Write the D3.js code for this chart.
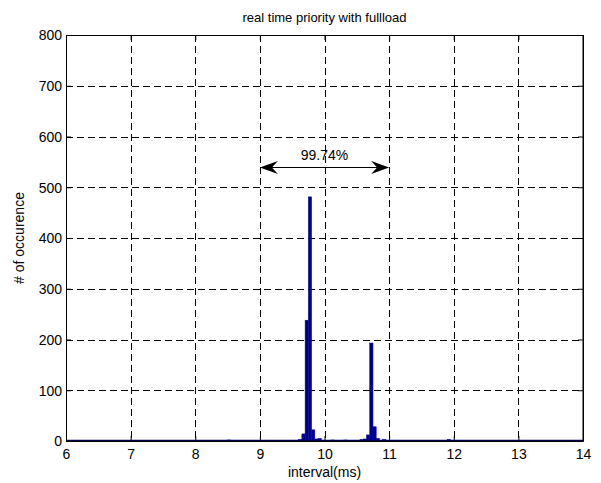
<!DOCTYPE html>
<html>
<head>
<meta charset="utf-8">
<script src="https://cdn.jsdelivr.net/npm/d3@7"></script>
<style>
body { margin: 0; background: #fff; }
svg text { font-family: "Liberation Sans", Arial, sans-serif; fill: #000; }
.grid line { stroke: #000; stroke-width: 1; stroke-dasharray: 7,4; }
</style>
</head>
<body>
<div id="chart"></div>
<script>
// histogram bins (left edge, ms) and counts
var binWidth = 0.05;
var binStarts = [8.50, 9.55, 9.60, 9.65, 9.70, 9.75, 9.80, 9.85, 9.90, 10.10, 10.30, 10.55, 10.60, 10.65, 10.70, 10.75, 10.80, 10.90, 11.90];
var binCounts = [2, 1, 3, 14, 238, 481, 22, 4, 5, 2, 2, 3, 4, 12, 193, 28, 5, 3, 3];

var xTicks = [6, 7, 8, 9, 10, 11, 12, 13, 14];
var yTicks = [0, 100, 200, 300, 400, 500, 600, 700, 800];

// annotation: share of samples between 9 and 11 ms
var spanFrom = 9, spanTo = 11, spanLevel = 540, spanLabel = "99.74%";

var margin = {top: 35, right: 18, bottom: 42, left: 66},
	width = 601 - margin.left - margin.right,
	height = 483 - margin.top - margin.bottom;

var xScale = d3.scaleLinear().domain([6, 14]).range([0, width]);
var yScale = d3.scaleLinear().domain([0, 800]).range([height, 0]);

var svg = d3.select("#chart")
	.append("svg")
	.attr("width", 601)
	.attr("height", 483)
	.append("g")
	.attr("transform", "translate(" + margin.left + "," + margin.top + ")");

// dashed grid
var grid = svg.append("g").attr("class", "grid");
grid.selectAll(".vgrid")
	.data(xTicks.slice(1, -1))
	.enter()
	.append("line")
	.attr("x1", function(d) { return Math.round(xScale(d)) + 0.5; })
	.attr("x2", function(d) { return Math.round(xScale(d)) + 0.5; })
	.attr("y1", 0)
	.attr("y2", height);
grid.selectAll(".hgrid")
	.data(yTicks.slice(1, -1))
	.enter()
	.append("line")
	.attr("x1", 0)
	.attr("x2", width)
	.attr("y1", function(d) { return Math.round(yScale(d)) + 0.5; })
	.attr("y2", function(d) { return Math.round(yScale(d)) + 0.5; });

// bars
svg.selectAll(".bar")
	.data(binStarts.map(function(s, i) { return {x: s, n: binCounts[i]}; }))
	.enter()
	.append("rect")
	.attr("class", "bar")
	.attr("x", function(d) { return xScale(d.x); })
	.attr("width", function(d) { return xScale(d.x + binWidth) - xScale(d.x); })
	.attr("y", function(d) { return yScale(d.n); })
	.attr("height", function(d) { return yScale(0) - yScale(d.n); })
	.style("fill", "#00008f")
	.style("stroke", "#00008f")
	.style("stroke-width", 0.5);

// bar baseline
svg.append("line")
	.attr("x1", 0)
	.attr("x2", width)
	.attr("y1", yScale(0) - 0.5)
	.attr("y2", yScale(0) - 0.5)
	.style("stroke", "#00008f")
	.style("stroke-width", 1.5);

// axes with inward ticks on all four sides
var xAxis = d3.axisBottom(xScale).tickValues(xTicks).tickSizeInner(-5).tickSizeOuter(0).tickPadding(8);
var yAxis = d3.axisLeft(yScale).tickValues(yTicks).tickSizeInner(-5).tickSizeOuter(0).tickPadding(4);

var gx = svg.append("g").attr("transform", "translate(0," + height + ")").call(xAxis);
var gy = svg.append("g").call(yAxis);
svg.append("g").call(d3.axisTop(xScale).tickValues(xTicks).tickSizeInner(-5).tickSizeOuter(0).tickFormat(""));
svg.append("g").attr("transform", "translate(" + width + ",0)")
	.call(d3.axisRight(yScale).tickValues(yTicks).tickSizeInner(-5).tickSizeOuter(0).tickFormat(""));

svg.selectAll(".domain").style("stroke", "#000");
svg.selectAll(".tick line").style("stroke", "#000");
gx.selectAll("text").style("font-size", "14px");
gy.selectAll("text").style("font-size", "14px").attr("dy", "0.35em");

// box
svg.append("rect")
	.attr("x", 0.5).attr("y", 0.5)
	.attr("width", width - 0.5).attr("height", height - 0.5)
	.style("fill", "none").style("stroke", "#000");

// titles
svg.append("text")
	.attr("x", width / 2)
	.attr("y", -13)
	.attr("text-anchor", "middle")
	.style("font-size", "13px")
	.text("real time priority with fullload");

svg.append("text")
	.attr("x", width / 2)
	.attr("y", height + 36)
	.attr("text-anchor", "middle")
	.style("font-size", "14px")
	.text("interval(ms)");

svg.append("text")
	.attr("transform", "translate(-42," + (height / 2) + ") rotate(-90)")
	.attr("text-anchor", "middle")
	.style("font-size", "14px")
	.text("# of occurence");

// double arrow annotation
var ax1 = xScale(spanFrom), ax2 = xScale(spanTo), ay = Math.round(yScale(spanLevel)) + 0.5;
svg.append("line")
	.attr("x1", ax1 + 8).attr("x2", ax2 - 8)
	.attr("y1", ay).attr("y2", ay)
	.style("stroke", "#000");

function arrowHead(tipX, dir) {
	var len = 18, half = 6.5, notch = 12;
	var pts = [[tipX, ay], [tipX + dir * len, ay - half], [tipX + dir * notch, ay], [tipX + dir * len, ay + half]];
	svg.append("path")
		.attr("d", "M" + pts.map(function(p) { return p.join(","); }).join("L") + "Z")
		.style("fill", "#000");
}
arrowHead(ax1, 1);
arrowHead(ax2, -1);

svg.append("text")
	.attr("x", xScale((spanFrom + spanTo) / 2))
	.attr("y", ay - 8)
	.attr("text-anchor", "middle")
	.style("font-size", "14px")
	.text(spanLabel);
</script>
</body>
</html>
